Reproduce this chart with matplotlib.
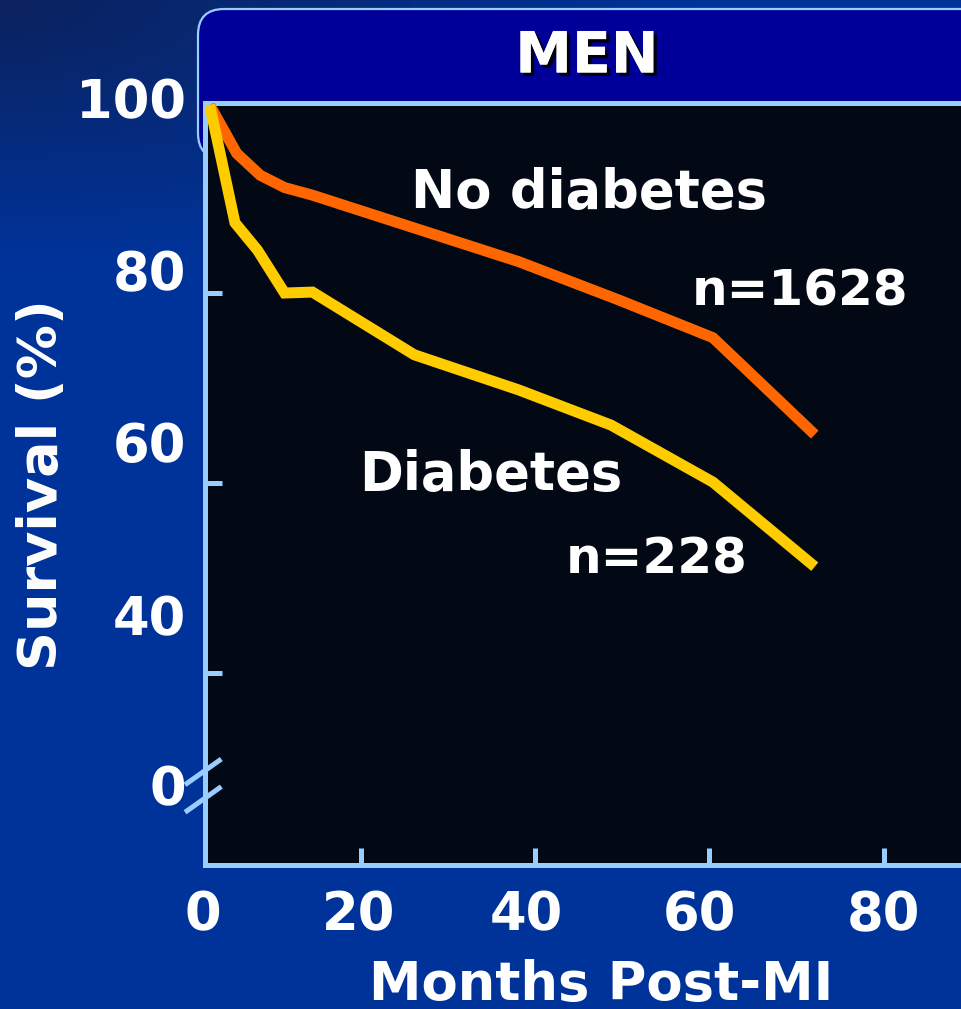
import numpy as np
import matplotlib
matplotlib.use('Agg')
import matplotlib.pyplot as plt
import matplotlib.patheffects as pe
from matplotlib.patches import FancyBboxPatch

# survival after MI, men
months_no_dm = [2.6, 5.7, 8.4, 11.2, 14.4, 38.1, 49.5, 60.4, 72.1]
surv_no_dm = [99.8, 94.7, 92.4, 91.1, 90.3, 83.3, 79.3, 75.3, 65.1]
months_dm = [2.6, 5.5, 8.1, 11.2, 14.4, 26.1, 38.1, 48.7, 60.4, 72.1]
surv_dm = [99.8, 87.4, 84.5, 80.0, 80.1, 73.5, 69.8, 66.1, 60.1, 51.2]

xtick_vals = [20, 40, 60, 80]
xtick_labels = ['0', '20', '40', '60', '80']
ytick_vals = [80, 60, 40]
ytick_labels = ['100', '80', '60', '40', '0']

W, H = 961, 1009
fig = plt.figure(figsize=(W / 100, H / 100), dpi=100)

# background gradient, darker towards the top-left corner
bg = fig.add_axes([0, 0, 1, 1], zorder=-10)
yy, xx = np.mgrid[0:H, 0:W]
d = np.clip(np.sqrt((xx / 700.0) ** 2 + (yy / 260.0) ** 2), 0, 1)[..., None]
dark = np.array([0x0b, 0x22, 0x5e]) / 255.0
main = np.array([0x00, 0x33, 0x99]) / 255.0
bg.imshow(dark * (1 - d) + main * d, extent=[0, W, H, 0], aspect='auto')
bg.set_xlim(0, W)
bg.set_ylim(H, 0)
bg.axis('off')

# title box
box = FancyBboxPatch((198, 9), 820, 150, boxstyle='round,pad=0,rounding_size=26',
                     facecolor='#000099', edgecolor='#99ccff', linewidth=1.6,
                     zorder=1)
bg.add_patch(box)
bg.text(587, 57, 'MEN', color='white', fontsize=41, fontweight='bold',
        ha='center', va='center', zorder=2,
        path_effects=[pe.withSimplePatchShadow(offset=(2.5, -2.5),
                                               shadow_rgbFace='black', alpha=0.9),
                      pe.Normal()])

# plot area
ax = fig.add_axes([205 / W, (H - 865) / H, (W - 205) / W + 0.01, (865 - 103) / H])
ax.set_facecolor('#020814')
ax.set_xlim(2.06, 90)
ax.set_ylim(19.8, 100)
blue = '#99ccff'
for side in ['left', 'bottom', 'top']:
    ax.spines[side].set_color(blue)
    ax.spines[side].set_linewidth(3.6)
ax.spines['right'].set_visible(False)

ax.plot(months_no_dm, surv_no_dm, color='#ff6600', linewidth=7.9,
        solid_joinstyle='miter', solid_capstyle='butt', zorder=3)
ax.plot(months_dm, surv_dm, color='#ffcc00', linewidth=7.9,
        solid_joinstyle='miter', solid_capstyle='butt', zorder=4)

ax.set_xticks(xtick_vals)
ax.set_yticks(ytick_vals)
ax.tick_params(axis='both', direction='in', length=12, width=3.6, color=blue,
               labelbottom=False, labelleft=False)

# axis break on the y axis
for yb in [29.6, 26.7]:
    ax.plot([0.0, 3.7], [yb - 1.2, yb + 1.2], color=blue, linewidth=3.6,
            clip_on=False, zorder=5)

# tick labels
tk = dict(color='white', fontsize=38, fontweight='bold')
for lab, py in zip(ytick_labels, [103, 275, 447, 620, 790]):
    bg.text(186, py, lab, ha='right', va='center', **tk)
for lab, px in zip(xtick_labels, [203, 359, 526, 699, 883]):
    bg.text(px, 915, lab, ha='center', va='center', **tk)

bg.text(601, 985, 'Months Post-MI', ha='center', va='center', **tk)
bg.text(42, 485, 'Survival (%)', ha='center', va='center', rotation=90,
        color='white', fontsize=39, fontweight='bold')

# series labels, drawn inside the plot area
lb = dict(color='white', fontweight='bold', ha='center', va='center',
          transform=bg.transData, zorder=6)
ax.text(589, 193, 'No diabetes', fontsize=38, **lb)
ax.text(800, 292, 'n=1628', fontsize=36, **lb)
ax.text(491, 475, 'Diabetes', fontsize=38, **lb)
ax.text(657, 560, 'n=228', fontsize=36, **lb)

fig.savefig('out.png', dpi=100)
